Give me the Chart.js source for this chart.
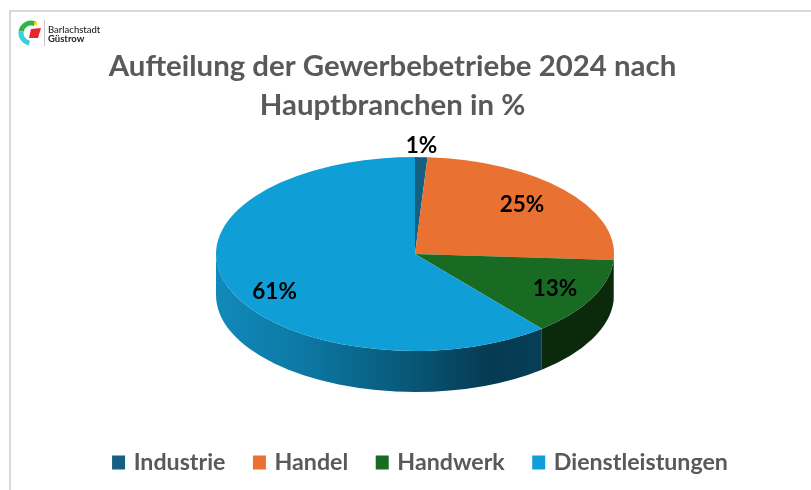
<!DOCTYPE html>
<html>
<head>
<meta charset="utf-8">
<title>Aufteilung der Gewerbebetriebe 2024</title>
<script src="https://cdn.jsdelivr.net/npm/chart.js@4"></script>
<style>
    html, body { margin: 0; padding: 0; background: #fff; overflow: hidden; }
    #frame { position: absolute; left: 9px; top: 10px; width: 802px; height: 480px; border-left: 2px solid #d9d9d9; border-top: 2px solid #d9d9d9; box-sizing: border-box; }
    #myChart { position: absolute; left: 0; top: 0; }
</style>
</head>
<body>
<div id="frame"></div>
<canvas id="myChart" width="811" height="490"></canvas>
<script>
const categories = ['Industrie', 'Handel', 'Handwerk', 'Dienstleistungen'];
const shares = [1, 25, 13, 61];
const titleLines = ['Aufteilung der Gewerbebetriebe 2024 nach', 'Hauptbranchen in %'];

const topColors = ['#156082', '#E97132', '#196B24', '#0F9ED5'];
const wallColors = ['#0b3446', '#7d3c1a', '#0a2a0b', null];

// pie placement, the 3d look is a squashed pie with a wall under it
const PIE_X = 415, PIE_Y = 254, PIE_R = 199;
const SQUASH = 0.487, DEPTH = 41;
// label position: fraction of the radius, then a nudge in px
const labelNudge = [[0, -7], [-5, -1], [7, 2], [0, 13]];
const LABEL_RADIUS = 0.75;

function wallFill(ctx, i) {
    if (wallColors[i]) return wallColors[i];
    const g = ctx.createLinearGradient(PIE_X - PIE_R, 0, PIE_X + 128, 0);
    g.addColorStop(0, '#1089ba');
    g.addColorStop(0.25, '#0d7aa6');
    g.addColorStop(0.55, '#085c7e');
    g.addColorStop(0.84, '#063a52');
    g.addColorStop(1, '#063f57');
    return g;
}

const pie3d = {
    id: 'pie3d',
    afterLayout(chart) {
        // move the boxes to where the reference has them
        const area = chart.chartArea;
        area.left = PIE_X - PIE_R;
        area.right = PIE_X + PIE_R;
        area.top = PIE_Y - PIE_R;
        area.bottom = PIE_Y + PIE_R;
        area.width = PIE_R * 2;
        area.height = PIE_R * 2;
        chart.titleBlock.left -= 13;
        chart.titleBlock.right -= 13;
        chart.legend.left += 16;
        chart.legend.right += 16;
        const legendDy = 484 - chart.legend.bottom;
        chart.legend.top += legendDy;
        chart.legend.bottom += legendDy;
    },
    beforeDatasetsDraw(chart) {
        const ctx = chart.ctx;
        chart.getDatasetMeta(0).data.forEach((arc, i) => {
            const a = Math.max(arc.startAngle, 0);
            const b = Math.min(arc.endAngle, Math.PI);
            if (b <= a) return;
            const r = arc.outerRadius;
            ctx.beginPath();
            ctx.ellipse(arc.x, arc.y, r, r * SQUASH, 0, a, b);
            ctx.ellipse(arc.x, arc.y + DEPTH, r, r * SQUASH, 0, b, a, true);
            ctx.closePath();
            ctx.fillStyle = wallFill(ctx, i);
            ctx.fill();
        });
        ctx.save();
        ctx.translate(0, PIE_Y);
        ctx.scale(1, SQUASH);
        ctx.translate(0, -PIE_Y);
    },
    afterDatasetsDraw(chart) {
        const ctx = chart.ctx;
        ctx.restore();
        ctx.save();
        ctx.font = 'bold 22.5px Lato';
        ctx.fillStyle = '#000';
        ctx.textAlign = 'center';
        ctx.textBaseline = 'middle';
        chart.getDatasetMeta(0).data.forEach((arc, i) => {
            const mid = (arc.startAngle + arc.endAngle) / 2;
            const f = i === 0 ? 1.05 : LABEL_RADIUS;
            const x = arc.x + Math.cos(mid) * arc.outerRadius * f + labelNudge[i][0];
            const y = arc.y + Math.sin(mid) * arc.outerRadius * SQUASH * f + labelNudge[i][1];
            ctx.fillText(shares[i] + '%', x, y);
        });
        ctx.restore();
    },
    afterDraw(chart) {
        // little town logo in the corner
        const ctx = chart.ctx;
        ctx.save();
        ctx.lineWidth = 5;
        ctx.strokeStyle = '#2fb34a';
        ctx.beginPath();
        ctx.arc(31, 33, 10, Math.PI * 1.05, Math.PI * 1.62);
        ctx.stroke();
        ctx.strokeStyle = '#35d0dc';
        ctx.beginPath();
        ctx.arc(31, 33, 10, Math.PI * 0.55, Math.PI * 1.05);
        ctx.stroke();
        ctx.fillStyle = '#e8262a';
        ctx.beginPath();
        ctx.moveTo(31, 29);
        ctx.lineTo(41, 28);
        ctx.lineTo(38, 38);
        ctx.lineTo(29, 38);
        ctx.closePath();
        ctx.fill();
        ctx.fillStyle = '#f2d21b';
        ctx.fillRect(34, 22, 3, 3);
        ctx.fillStyle = '#c4c4c4';
        ctx.fillRect(44, 20, 1, 26);
        ctx.fillStyle = '#222';
        ctx.textAlign = 'left';
        ctx.textBaseline = 'alphabetic';
        ctx.font = '500 9.5px Lato';
        ctx.fillText('Barlachstadt', 48, 33);
        ctx.font = 'bold 9.5px Lato';
        ctx.fillText('Güstrow', 48, 42);
        ctx.restore();
    }
};

const ctx = document.getElementById('myChart').getContext('2d');
const myChart = new Chart(ctx, {
    type: 'pie',
    data: {
        labels: categories,
        datasets: [{
            data: shares,
            backgroundColor: topColors,
            borderWidth: 0,
            clip: false
        }]
    },
    options: {
        responsive: false,
        animation: false,
        plugins: {
            title: {
                display: true,
                text: titleLines,
                color: '#595959',
                font: { family: 'Lato', size: 29.4, weight: 'bold', lineHeight: 1.33 },
                padding: { top: 47, bottom: 0 }
            },
            legend: {
                position: 'bottom',
                labels: {
                    color: '#595959',
                    font: { family: 'Lato', size: 23.2, weight: 'bold' },
                    // thick border on a small box keeps the text close to the swatch
                    boxWidth: 7,
                    boxHeight: 8,
                    padding: 30.5,
                    generateLabels(chart) {
                        return Chart.overrides.pie.plugins.legend.labels.generateLabels(chart).map((item) => {
                            item.lineWidth = 6;
                            item.strokeStyle = item.fillStyle;
                            return item;
                        });
                    }
                }
            },
            tooltip: { enabled: false }
        }
    },
    plugins: [pie3d]
});
</script>
</body>
</html>
